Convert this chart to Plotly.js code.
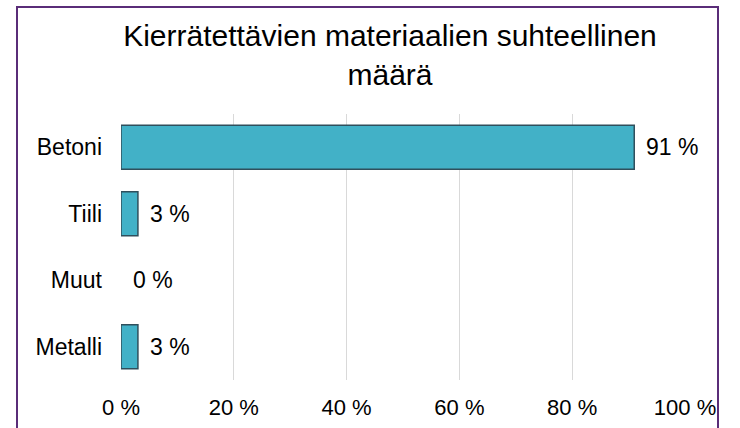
<!DOCTYPE html>
<html>
<head>
<meta charset="utf-8">
<script src="https://cdn.plot.ly/plotly-3.0.1.min.js"></script>
<style>
  html, body { margin: 0; padding: 0; background: #ffffff; }
  #wrap { position: relative; width: 740px; height: 428px; overflow: hidden; }
  #chart { width: 740px; height: 428px; }
  #frame { position: absolute; left: 16px; top: 6px; width: 703px; height: 440px;
           border: 2px solid #5a2d78; box-sizing: border-box; pointer-events: none; }
</style>
</head>
<body>
<div id="wrap">
  <div id="chart"></div>
  <div id="frame"></div>
</div>
<script>
const categories = ["Betoni", "Tiili", "Muut", "Metalli"];
const values = [91, 3, 0, 3];
const xTicks = [0, 20, 40, 60, 80, 100];
const xTickLabels = ["0 %", "20 %", "40 %", "60 %", "80 %", "100 %"];
const titleText = "Kierrätettävien materiaalien suhteellinen<br>määrä";

const fontFamily = "Liberation Sans, Arial, sans-serif";

const trace = {
  type: "bar",
  orientation: "h",
  x: values,
  y: categories,
  marker: {
    color: "#42b1c7",
    line: { color: "#2f4f5c", width: values.map(v => v > 0 ? 1.5 : 0) }
  },
  hoverinfo: "none"
};

const annotations = categories.map((c, i) => ({
  x: values[i], y: c, xref: "x", yref: "y",
  text: values[i] + " %", showarrow: false,
  xanchor: "left", yanchor: "middle", xshift: 10,
  font: { family: fontFamily, size: 23, color: "#000" }
}));

const layout = {
  width: 740, height: 428,
  margin: { l: 121, r: 55, t: 114, b: 48 },
  paper_bgcolor: "#ffffff",
  plot_bgcolor: "#ffffff",
  showlegend: false,
  bargap: 0.34,
  title: {
    text: titleText,
    font: { family: fontFamily, size: 30, color: "#000" },
    xref: "container", x: 0.527, xanchor: "center",
    yref: "container", y: 0.893, yanchor: "top"
  },
  xaxis: {
    range: [0, 100],
    tickvals: xTicks,
    ticktext: xTickLabels,
    showgrid: true, gridcolor: "#d9d9d9", gridwidth: 1,
    zeroline: false, showline: false, ticks: "",
    ticklabelstandoff: 12,
    tickfont: { family: fontFamily, size: 22, color: "#000" },
    fixedrange: true
  },
  yaxis: {
    type: "category",
    categoryorder: "array",
    categoryarray: categories,
    autorange: "reversed",
    showgrid: false, zeroline: false, showline: false, ticks: "",
    ticklabelstandoff: 18,
    tickfont: { family: fontFamily, size: 23, color: "#000" },
    fixedrange: true
  },
  annotations: annotations
};

Plotly.newPlot("chart", [trace], layout, { displayModeBar: false, staticPlot: true });
</script>
</body>
</html>
